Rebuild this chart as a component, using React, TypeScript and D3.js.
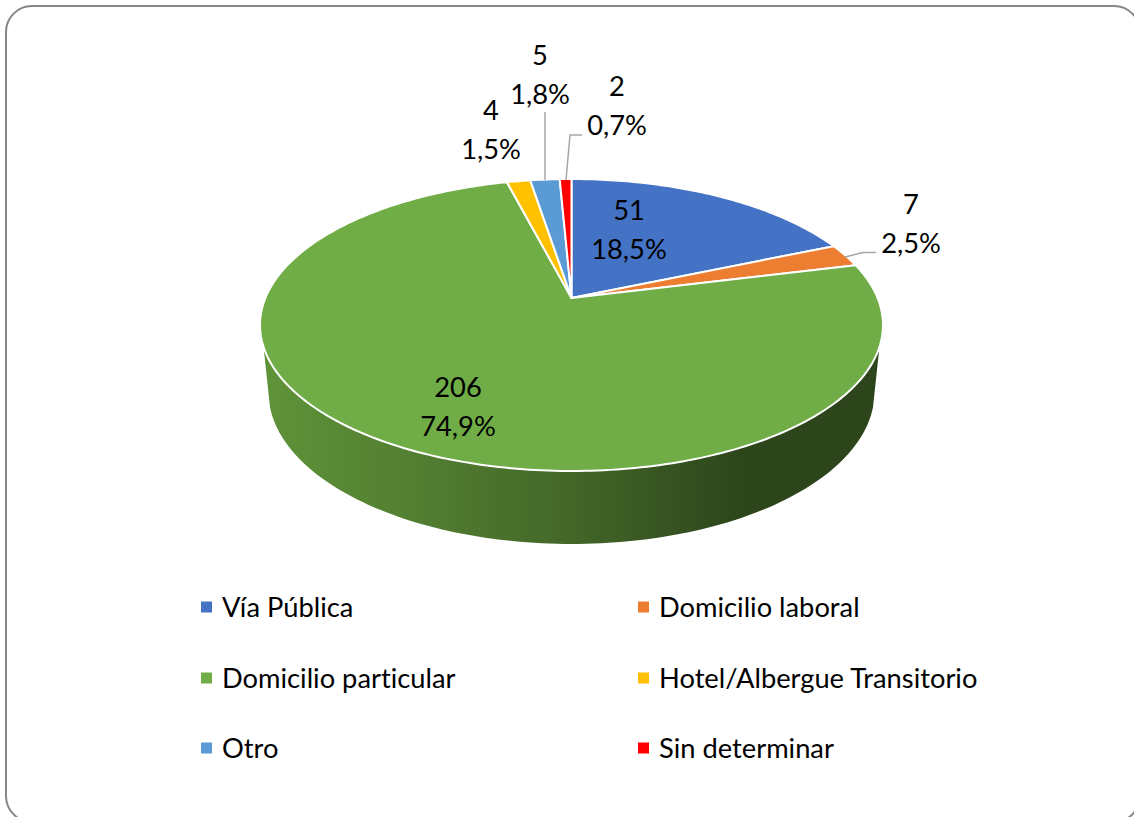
import React from "react";
import * as d3 from "d3";

const categories = ["Vía Pública", "Domicilio laboral", "Domicilio particular", "Hotel/Albergue Transitorio", "Otro", "Sin determinar"];
const values = [51, 7, 206, 4, 5, 2];
const percents = ["18,5%", "2,5%", "74,9%", "1,5%", "1,8%", "0,7%"];
const colors = ["#4472C4", "#ED7D31", "#70AD47", "#FFC000", "#5B9BD5", "#FF0000"];
const labelPos: [number, number][] = [[629, 209], [911, 203], [458, 386], [491, 109], [540, 54], [617, 85]];
const legendPos: [number, number][] = [[201, 607], [638, 607], [201, 678], [638, 678], [201, 748], [638, 748]];
const leaders: ([number, number][] | null)[] = [
  null,
  [[845, 257], [863, 252.5], [876, 252.5]],
  null,
  null,
  [[545, 112], [545, 180]],
  [[566, 180], [570, 135], [582, 135]],
];

const FONT = "Lato, Carlito, sans-serif";
const FONT_SIZE = 27.3;
const cx = 571.5, apexY = 298, R = 306.1, S = 141, k = 0.185;
const project = (a: number): [number, number] => {
  const u = Math.sin(a), v = -Math.cos(a), d = 1 - k * v;
  return [cx + (R * u) / d, apexY + (S * v) / d];
};

const pieGen = d3.pie<number>().sort(null).startAngle(0).endAngle(2 * Math.PI);
const arcs = pieGen(values);
const line = d3.line<[number, number]>();

const slicePath = (a0: number, a1: number) => {
  const n = Math.max(4, Math.ceil((a1 - a0) * 60));
  const pts: [number, number][] = [[cx, apexY]];
  d3.range(n + 1).forEach((i) => pts.push(project(a0 + ((a1 - a0) * i) / n)));
  return line(pts) + "Z";
};

const wallPath = () => {
  const pts: [number, number][] = [];
  const topCy = 325, topRx = 311.5, topRy = 146;
  const botCy = 392, botRx = 303, botRy = 152;
  const startT = Math.asin(22 / topRy);
  const botStart = Math.asin(15 / botRy);
  pts.push([cx + topRx * Math.cos(startT), topCy + topRy * Math.sin(startT)]);
  d3.range(121).forEach((i) => {
    const t = botStart + ((Math.PI - 2 * botStart) * i) / 120;
    pts.push([cx + botRx * Math.cos(t), botCy + botRy * Math.sin(t)]);
  });
  pts.push([cx - topRx * Math.cos(startT), topCy + topRy * Math.sin(startT)]);
  d3.range(61).forEach((i) => {
    const t = Math.PI - startT - ((Math.PI - 2 * startT) * i) / 60;
    pts.push([cx + topRx * Math.cos(t), topCy + topRy * Math.sin(t) - 4]);
  });
  return line(pts) + "Z";
};

export default function App() {
  return (
    <svg width={1134} height={817} style={{ position: "absolute", left: 0, top: 0, display: "block", fontVariantLigatures: "none" }} fontFamily={FONT}>
      <defs>
        <linearGradient id="wall" gradientUnits="userSpaceOnUse" x1={262} x2={882} y1={0} y2={0}>
          <stop offset="0" stopColor="#5f9339" />
          <stop offset="0.25" stopColor="#527e31" />
          <stop offset="0.5" stopColor="#436628" />
          <stop offset="0.78" stopColor="#2c451b" />
          <stop offset="1" stopColor="#2c451b" />
        </linearGradient>
      </defs>
      <rect x={0} y={0} width={1134} height={817} fill="#fff" />
      <rect x={6} y={6} width={1134} height={816} rx={26} fill="#fff" stroke="#868686" strokeWidth={2} />
      <path d={wallPath()} fill="url(#wall)" />
      {arcs.map((a, i) => (
        <path key={i} d={slicePath(a.startAngle, a.endAngle)} fill={colors[i]} stroke="#fff" strokeWidth={2} strokeLinejoin="round" />
      ))}
      {leaders.map((l, i) =>
        l ? <path key={i} d={line(l)!} fill="none" stroke="#a6a6a6" strokeWidth={1.5} /> : null
      )}
      {categories.map((c, i) => (
        <g key={c}>
          <text x={labelPos[i][0]} y={labelPos[i][1]} textAnchor="middle" dominantBaseline="central" fontSize={FONT_SIZE} fill="#000">{values[i]}</text>
          <text x={labelPos[i][0]} y={labelPos[i][1] + 39.5} textAnchor="middle" dominantBaseline="central" fontSize={FONT_SIZE} fill="#000">{percents[i]}</text>
          <rect x={legendPos[i][0]} y={legendPos[i][1] - 5.5} width={11} height={11} fill={colors[i]} />
          <text x={legendPos[i][0] + 21} y={legendPos[i][1] - 1} dominantBaseline="central" fontSize={FONT_SIZE} fill="#000">{c}</text>
        </g>
      ))}
    </svg>
  );
}
